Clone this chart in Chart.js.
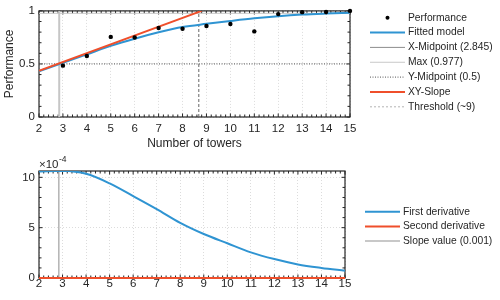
<!DOCTYPE html>
<html>
<head>
<meta charset="utf-8">
<script src="https://cdn.jsdelivr.net/npm/chart.js@4.4.0/dist/chart.umd.min.js"></script>
<style>
	body { margin: 0; background: #fff; }
	.panel { position: relative; width: 500px; height: 150px; }
</style>
</head>
<body>
<div class="panel"><canvas id="topChart"></canvas></div>
<div class="panel"><canvas id="bottomChart"></canvas></div>
<script>
// x axis: number of towers
var towers = [2, 3, 4, 5, 6, 7, 8, 9, 10, 11, 12, 13, 14, 15];
var xTicks = [2, 3, 4, 5, 6, 7, 8, 9, 10, 11, 12, 13, 14, 15];

// top panel
var perfX = [3, 4, 5, 6, 7, 8, 9, 10, 11, 12, 13, 14, 15];
var perfY = [0.484, 0.575, 0.755, 0.75, 0.839, 0.832, 0.857, 0.876, 0.807, 0.97, 0.988, 0.99, 1.0];
var fitY = [0.43, 0.51, 0.59, 0.67, 0.738, 0.798, 0.848, 0.878, 0.905, 0.93, 0.95, 0.965, 0.975, 0.983];
var slopeX = [2, 8.8];
var slopeY = [0.435, 1.0];
var xMid = 2.845;
var maxVal = 0.977;
var yMid = 0.5;
var threshold = 8.68;
var topYTicks = [0, 0.5, 1];

// bottom panel, values in units of 1e-4
var firstDeriv = [10.58, 10.65, 10.35, 9.4, 8.14, 6.85, 5.48, 4.37, 3.45, 2.55, 1.88, 1.35, 1.0, 0.72];
var secondDeriv = [0, 0, 0, 0, 0, 0, 0, 0, 0, 0, 0, 0, 0, 0];
var bottomYMax = 10.63;
var bottomYTicks = [0, 5, 10];

var BLUE = '#2f94d2';
var RED = '#ef4f2b';
var INK = '#262626';

Chart.defaults.font.family = '"Liberation Sans", Arial, sans-serif';
Chart.defaults.color = INK;

function pts(xs, ys) {
	return xs.map(function(x, i) { return {x: x, y: ys[i]}; });
}

// box around the axes with small inward ticks (major + minor)
var frame = {
	id: 'frame',
	beforeDatasetsDraw: function(chart, args, opts) {
		var a = chart.chartArea, ctx = chart.ctx;
		var xs = chart.scales.x, ys = chart.scales.y;
		ctx.save();
		ctx.strokeStyle = INK;
		ctx.lineWidth = 1;
		ctx.beginPath();
		var n = Math.round((xs.max - xs.min) / opts.xMinor);
		for (var i = 0; i <= n; i++) {
			var px = xs.getPixelForValue(xs.min + i * opts.xMinor);
			var len = (i % opts.xEvery === 0) ? 3.5 : 2.5;
			ctx.moveTo(px, a.bottom); ctx.lineTo(px, a.bottom - len);
			ctx.moveTo(px, a.top); ctx.lineTo(px, a.top + len);
		}
		n = Math.floor((ys.max - ys.min) / opts.yMinor + 1e-6);
		for (var j = 0; j <= n; j++) {
			var py = ys.getPixelForValue(ys.min + j * opts.yMinor);
			var len2 = (j % opts.yEvery === 0) ? 3.5 : 2.5;
			ctx.moveTo(a.left, py); ctx.lineTo(a.left + len2, py);
			ctx.moveTo(a.right, py); ctx.lineTo(a.right - len2, py);
		}
		ctx.stroke();
		ctx.lineWidth = 1.2;
		ctx.strokeRect(a.left, a.top, a.right - a.left, a.bottom - a.top);
		ctx.restore();
	}
};

// legend to the right, built from the datasets
var sideLegend = {
	id: 'sideLegend',
	afterDraw: function(chart, args, opts) {
		var ctx = chart.ctx;
		var y = opts.top;
		ctx.save();
		ctx.font = opts.size + 'px "Liberation Sans", Arial, sans-serif';
		ctx.textBaseline = 'middle';
		ctx.textAlign = 'left';
		chart.data.datasets.forEach(function(ds) {
			if (ds.noLegend) return;
			var lg = ds.legend || {};
			if (lg.dot) {
				ctx.fillStyle = '#000';
				ctx.beginPath();
				ctx.arc((opts.x0 + opts.x1) / 2, y, 2, 0, Math.PI * 2);
				ctx.fill();
			} else {
				ctx.strokeStyle = lg.color || ds.borderColor;
				ctx.lineWidth = lg.width || ds.borderWidth;
				ctx.setLineDash(lg.dash || ds.borderDash || []);
				ctx.beginPath();
				ctx.moveTo(opts.x0, y);
				ctx.lineTo(opts.x1, y);
				ctx.stroke();
				ctx.setLineDash([]);
			}
			ctx.fillStyle = INK;
			ctx.fillText(ds.label, opts.x1 + 3, y);
			y += opts.step;
		});
		ctx.restore();
	}
};

// the x10^-4 multiplier above the lower y axis
var exponent = {
	id: 'exponent',
	afterDraw: function(chart) {
		var ctx = chart.ctx;
		ctx.save();
		ctx.fillStyle = INK;
		ctx.textBaseline = 'middle';
		ctx.textAlign = 'left';
		ctx.font = '11.5px "Liberation Sans", Arial, sans-serif';
		ctx.fillText('\u00d710', 39, 15);
		var w = ctx.measureText('\u00d710').width;
		ctx.font = '8.5px "Liberation Sans", Arial, sans-serif';
		ctx.fillText('-4', 39 + w + 0.5, 9.5);
		ctx.restore();
	}
};

function setTicks(vals) {
	return function(scale) {
		scale.ticks = vals.map(function(v) { return {value: v}; });
	};
}

function plainLabel(v) {
	return String(v);
}

function xAxis(padding, title) {
	return {
		type: 'linear', min: 2, max: 15,
		afterBuildTicks: setTicks(xTicks),
		afterFit: function(s) { s.height = title ? 33 : 22; },
		ticks: {padding: padding, font: {size: 11.5}, color: INK, maxRotation: 0, autoSkip: false, callback: plainLabel},
		grid: {color: '#dcdcdc', drawTicks: false},
		border: {display: false, dash: [1, 2]},
		title: {display: !!title, text: title, font: {size: 12, lineHeight: 1}, padding: {top: 0, bottom: 0}, color: INK}
	};
}

var ctxTop = document.getElementById('topChart').getContext('2d');
var topChart = new Chart(ctxTop, {
	type: 'line',
	data: {
		datasets: [
			{type: 'scatter', label: 'Performance', data: pts(perfX, perfY), pointRadius: 2.2, pointBackgroundColor: '#000',
				pointBorderWidth: 0, clip: false, order: 0, legend: {dot: true}},
			{label: 'Fitted model', data: pts(towers, fitY), borderColor: BLUE, borderWidth: 2,
				cubicInterpolationMode: 'monotone', order: 2},
			{label: 'X-Midpoint (2.845)', data: pts([xMid, xMid], [0, 1]), borderColor: '#c6c6c6', borderWidth: 2,
				order: 3, legend: {color: '#8c8c8c', width: 1}},
			{label: 'Max (0.977)', data: pts([2, 15], [maxVal, maxVal]), borderColor: '#c8c8c8', borderWidth: 1, order: 3},
			{label: 'Y-Midpoint (0.5)', data: pts([2, 15], [yMid, yMid]), borderColor: '#555', borderWidth: 1,
				borderDash: [1, 1.5], order: 3},
			{label: 'XY-Slope', data: pts(slopeX, slopeY), borderColor: RED, borderWidth: 2, order: 1},
			{label: 'Threshold (~9)', data: pts([threshold, threshold], [0, 1]), borderColor: '#666', borderWidth: 1,
				borderDash: [3, 2], order: 3, legend: {color: '#b4b4b4', dash: [2, 2]}}
		]
	},
	options: {
		responsive: true, maintainAspectRatio: false, animation: false, events: [],
		layout: {padding: {left: 0, right: 150, top: 9, bottom: 0}},
		elements: {point: {radius: 0}},
		plugins: {
			legend: {display: false}, tooltip: {enabled: false},
			frame: {xMinor: 0.2, xEvery: 5, yMinor: 0.1, yEvery: 5},
			sideLegend: {top: 17.7, step: 14.85, x0: 370, x1: 405, size: 10.3}
		},
		scales: {
			x: xAxis(5, 'Number of towers'),
			y: {
				min: 0, max: 1,
				afterBuildTicks: setTicks(topYTicks),
				afterFit: function(s) { s.width = 39; },
				ticks: {padding: 4, font: {size: 11.5}, color: INK, callback: plainLabel},
				grid: {color: '#dcdcdc', drawTicks: false},
				border: {display: false, dash: [1, 2]},
				title: {display: true, text: 'Performance', font: {size: 12, lineHeight: 1}, padding: {top: 4, bottom: 0}, color: INK}
			}
		}
	},
	plugins: [frame, sideLegend]
});

var ctxBottom = document.getElementById('bottomChart').getContext('2d');
var bottomChart = new Chart(ctxBottom, {
	type: 'line',
	data: {
		datasets: [
			{label: 'First derivative', data: pts(towers, firstDeriv), borderColor: BLUE, borderWidth: 2,
				cubicInterpolationMode: 'monotone', order: 1},
			{label: 'Second derivative', data: pts(towers, secondDeriv), borderColor: RED, borderWidth: 2, clip: false, order: 0},
			{label: 'Slope value (0.001)', data: pts([xMid, xMid], [0, bottomYMax]), borderColor: '#8c8c8c', borderWidth: 1,
				order: 2, legend: {color: '#c8c8c8', width: 2}}
		]
	},
	options: {
		responsive: true, maintainAspectRatio: false, animation: false, events: [],
		layout: {padding: {left: 0, right: 155, top: 21, bottom: 0}},
		elements: {point: {radius: 0}},
		plugins: {
			legend: {display: false}, tooltip: {enabled: false},
			frame: {xMinor: 0.2, xEvery: 5, yMinor: 1, yEvery: 5},
			sideLegend: {top: 61.7, step: 14.7, x0: 365, x1: 400, size: 10.3}
		},
		scales: {
			x: xAxis(-1, ''),
			y: {
				min: 0, max: bottomYMax,
				afterBuildTicks: setTicks(bottomYTicks),
				afterFit: function(s) { s.width = 39; },
				ticks: {padding: 4, font: {size: 11.5}, color: INK, callback: plainLabel},
				grid: {color: '#dcdcdc', drawTicks: false},
				border: {display: false, dash: [1, 2]}
			}
		}
	},
	plugins: [frame, sideLegend, exponent]
});
</script>
</body>
</html>
